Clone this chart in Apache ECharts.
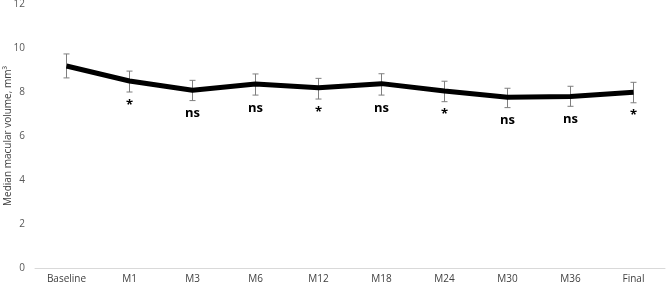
<!DOCTYPE html>
<html>
<head>
<meta charset="utf-8">
<script src="https://cdn.jsdelivr.net/npm/echarts@6/dist/echarts.min.js"></script>
<style>
  html, body { margin: 0; padding: 0; background: #fff; }
  #chart { width: 669px; height: 286px; }
</style>
</head>
<body>
<div id="chart"></div>
<script>
  // time points and median macular volume (mm3)
  const visits = ['Baseline', 'M1', 'M3', 'M6', 'M12', 'M18', 'M24', 'M30', 'M36', 'Final'];
  const medianVolume = [9.18, 8.5, 8.08, 8.36, 8.19, 8.38, 8.05, 7.76, 7.8, 7.99];
  const errLow = [8.64, 8.0, 7.61, 7.86, 7.68, 7.86, 7.56, 7.29, 7.35, 7.51];
  const errHigh = [9.73, 8.95, 8.53, 8.82, 8.62, 8.83, 8.49, 8.17, 8.26, 8.44];
  const significance = ['', '*', 'ns', 'ns', '*', 'ns', '*', 'ns', 'ns', '*'];
  const yTicks = { min: 0, max: 12, interval: 2 };

  const chart = echarts.init(document.getElementById('chart'));
  const font = '"Open Sans", "Noto Sans", sans-serif';

  const errData = visits.map(function(v, i) {
    return [i, errLow[i], errHigh[i]];
  });

  const option = {
    animation: false,
    grid: { left: 35, right: 4, top: 4, bottom: 18, outerBoundsMode: 'none', containLabel: false },
    xAxis: {
      type: 'category',
      data: visits,
      boundaryGap: true,
      axisLine: { lineStyle: { color: '#d9d9d9', width: 1 } },
      axisTick: { show: false },
      axisLabel: { color: '#404040', fontSize: 10, fontFamily: font, margin: 6 }
    },
    yAxis: {
      type: 'value',
      min: yTicks.min,
      max: yTicks.max,
      interval: yTicks.interval,
      name: 'Median macular volume, mm³',
      nameLocation: 'middle',
      nameGap: 22,
      nameMoveOverlap: false,
      nameTextStyle: { color: '#404040', fontSize: 10, fontFamily: font },
      axisLine: { show: false },
      axisTick: { show: false },
      splitLine: { show: false },
      axisLabel: { color: '#595959', fontSize: 10, fontFamily: font, margin: 10 }
    },
    series: [
      {
        type: 'line',
        data: medianVolume,
        symbol: 'none',
        lineStyle: { color: '#000', width: 5 },
        z: 3
      },
      {
        type: 'custom',
        data: errData,
        z: 2,
        renderItem: function(params, api) {
          const x = api.value(0);
          const lo = api.coord([x, api.value(1)]);
          const hi = api.coord([x, api.value(2)]);
          const cap = 3;
          const st = { stroke: '#7f7f7f', lineWidth: 1 };
          return {
            type: 'group',
            children: [
              { type: 'line', shape: { x1: hi[0], y1: hi[1], x2: lo[0], y2: lo[1] }, style: st },
              { type: 'line', shape: { x1: hi[0] - cap, y1: hi[1], x2: hi[0] + cap, y2: hi[1] }, style: st },
              { type: 'line', shape: { x1: lo[0] - cap, y1: lo[1], x2: lo[0] + cap, y2: lo[1] }, style: st },
              {
                type: 'text',
                style: {
                  x: lo[0],
                  y: lo[1] + 13,
                  text: significance[params.dataIndex],
                  fill: '#000',
                  font: 'bold 13px ' + font,
                  align: 'center',
                  verticalAlign: 'middle'
                }
              }
            ]
          };
        }
      }
    ]
  };
  chart.setOption(option);
</script>
</body>
</html>
